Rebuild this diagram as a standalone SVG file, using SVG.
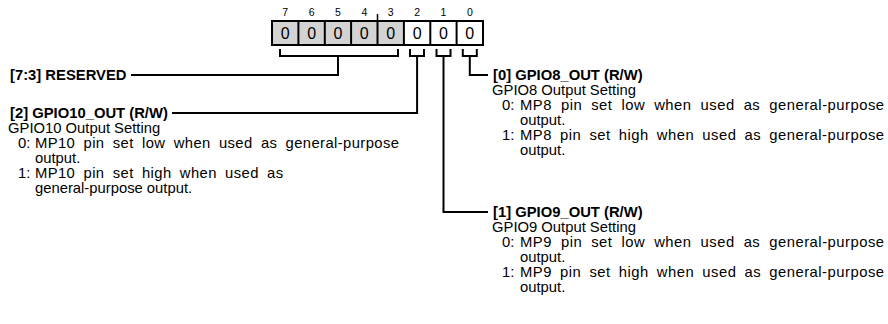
<svg xmlns="http://www.w3.org/2000/svg" width="888" height="324" viewBox="0 0 888 324">
<style>
text{font-family:"Liberation Sans",Arial,sans-serif;fill:#000}
.n{font-size:10.5px;text-anchor:middle}
.z{font-size:16px;text-anchor:middle}
.h{font-size:14.8px;font-weight:bold}
.t{font-size:14.8px}
.c{fill:none;stroke:#000;stroke-width:2}
</style>
<rect width="888" height="324" fill="#fff"/>
<g id="register">
<rect x="272" y="21" width="131.9" height="24" fill="#d3d3d3"/>
<rect x="272" y="21" width="211" height="24" fill="none" stroke="#000" stroke-width="2"/>
<g stroke="#000" stroke-width="2">
<line x1="298.4" y1="21" x2="298.4" y2="45"/>
<line x1="324.8" y1="21" x2="324.8" y2="45"/>
<line x1="351.1" y1="21" x2="351.1" y2="45"/>
<line x1="377.5" y1="21" x2="377.5" y2="45"/>
<line x1="403.9" y1="21" x2="403.9" y2="45"/>
<line x1="430.3" y1="21" x2="430.3" y2="45"/>
<line x1="456.6" y1="21" x2="456.6" y2="45"/>
<line x1="377.5" y1="14" x2="377.5" y2="21" stroke-width="1.5"/>
</g>
<text class="n" x="285.2" y="16">7</text>
<text class="n" x="311.6" y="16">6</text>
<text class="n" x="338" y="16">5</text>
<text class="n" x="364.3" y="16">4</text>
<text class="n" x="390.7" y="16">3</text>
<text class="n" x="417.1" y="16">2</text>
<text class="n" x="443.5" y="16">1</text>
<text class="n" x="469.8" y="16">0</text>
<text class="z" x="285.2" y="39">0</text>
<text class="z" x="311.6" y="39">0</text>
<text class="z" x="338" y="39">0</text>
<text class="z" x="364.3" y="39">0</text>
<text class="z" x="390.7" y="39">0</text>
<text class="z" x="417.1" y="39">0</text>
<text class="z" x="443.5" y="39">0</text>
<text class="z" x="469.8" y="39">0</text>
</g>
<g id="connectors">
<path class="c" d="M280 49 V56 H398 V49 M338 56 V75 H131"/>
<path class="c" d="M410 49 V56 H424 V49 M417.1 56 V113 H172"/>
<path class="c" d="M436.5 49 V56 H450.5 V49 M443.5 56 V212 H488"/>
<path class="c" d="M462.8 49 V56 H476.8 V49 M469.8 56 V75 H488"/>
</g>
<g id="reserved">
<text class="h" x="10" y="80">[7:3] RESERVED</text>
</g>
<g id="gpio10">
<text class="h" x="10" y="118">[2] GPIO10_OUT (R/W)</text>
<text class="t" x="8" y="133">GPIO10 Output Setting</text>
<text class="t" x="18" y="148">0:</text>
<text class="t" x="35" y="148" letter-spacing="0.4" word-spacing="3.77">MP10 pin set low when used as general-purpose</text>
<text class="t" x="35" y="163">output.</text>
<text class="t" x="18" y="178">1:</text>
<text class="t" x="35" y="178" letter-spacing="0.4" word-spacing="3.77">MP10 pin set high when used as</text>
<text class="t" x="35" y="193">general-purpose output.</text>
</g>
<g id="gpio8">
<text class="h" x="493" y="80">[0] GPIO8_OUT (R/W)</text>
<text class="t" x="492" y="95">GPIO8 Output Setting</text>
<text class="t" x="502" y="110">0:</text>
<text class="t" x="520" y="110" letter-spacing="0.5" word-spacing="4.4">MP8 pin set low when used as general-purpose</text>
<text class="t" x="520" y="125">output.</text>
<text class="t" x="502" y="140">1:</text>
<text class="t" x="520" y="140" letter-spacing="0.5" word-spacing="3.5">MP8 pin set high when used as general-purpose</text>
<text class="t" x="520" y="155">output.</text>
</g>
<g id="gpio9">
<text class="h" x="493" y="217">[1] GPIO9_OUT (R/W)</text>
<text class="t" x="492" y="232">GPIO9 Output Setting</text>
<text class="t" x="502" y="247">0:</text>
<text class="t" x="520" y="247" letter-spacing="0.5" word-spacing="4.4">MP9 pin set low when used as general-purpose</text>
<text class="t" x="520" y="262">output.</text>
<text class="t" x="502" y="277">1:</text>
<text class="t" x="520" y="277" letter-spacing="0.5" word-spacing="3.5">MP9 pin set high when used as general-purpose</text>
<text class="t" x="520" y="292">output.</text>
</g>
</svg>
